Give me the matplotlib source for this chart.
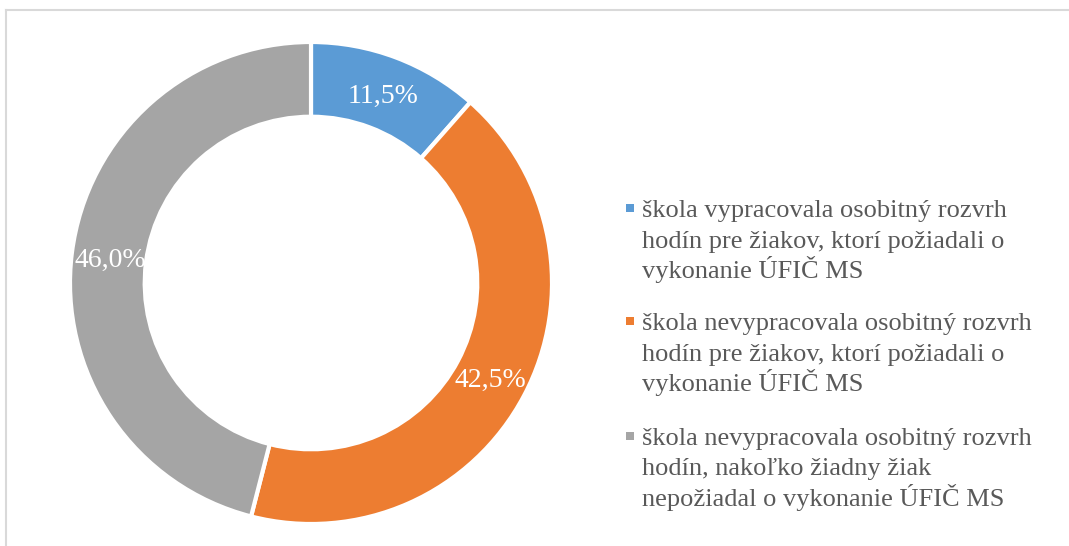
import matplotlib.pyplot as plt
from matplotlib.lines import Line2D
from matplotlib.patches import Rectangle

plt.rcParams['font.family'] = ['Liberation Serif', 'DejaVu Serif']

# data
values = [11.5, 42.5, 46.0]
labels = ["11,5%", "42,5%", "46,0%"]
legend_labels = [
    "škola vypracovala osobitný rozvrh\nhodín pre žiakov, ktorí požiadali o\nvykonanie ÚFIČ MS",
    "škola nevypracovala osobitný rozvrh\nhodín pre žiakov, ktorí požiadali o\nvykonanie ÚFIČ MS",
    "škola nevypracovala osobitný rozvrh\nhodín, nakoľko žiadny žiak\nnepožiadal o vykonanie ÚFIČ MS",
]
colors = ["#5B9BD5", "#ED7D31", "#A5A5A5"]

W, H = 1069, 546
fig = plt.figure(figsize=(W / 100, H / 100), dpi=100)

# donut
cx, cy, r = 311, 283, 241
ax = fig.add_axes([(cx - r) / W, (H - cy - r) / H, 2 * r / W, 2 * r / H])
wedges, texts = ax.pie(values, colors=colors, startangle=90, counterclock=False,
                       radius=1, labels=labels, labeldistance=0.84,
                       wedgeprops=dict(width=0.31, edgecolor='white', linewidth=3),
                       textprops=dict(color='white', fontsize=20, ha='center'))
for t in texts:
    t.set_va('center_baseline')
ax.set_xlim(-1, 1)
ax.set_ylim(-1, 1)
ax.set_aspect('equal')
ax.axis('off')

# legend, drawn by hand so the marker sits on the first line
line_gap = 30.5
entry_y = [217, 330, 445]
for lab, col, y0 in zip(legend_labels, colors, entry_y):
    fig.patches.append(Rectangle((626 / W, (H - y0 + 5) / H), 8 / W, 8 / H,
                                 transform=fig.transFigure, facecolor=col,
                                 edgecolor='none'))
    for k, line in enumerate(lab.split("\n")):
        fig.text(642 / W, (H - y0 - k * line_gap) / H, line, fontsize=19,
                 color='#595959', ha='left', va='baseline')

# chart frame (top and left edges visible)
fig.add_artist(Line2D([6 / W, 1.0], [1 - 10 / H, 1 - 10 / H], color='#d9d9d9', lw=1.5))
fig.add_artist(Line2D([6 / W, 6 / W], [0, 1 - 10 / H], color='#d9d9d9', lw=1.5))

fig.savefig("out.png", dpi=100)
